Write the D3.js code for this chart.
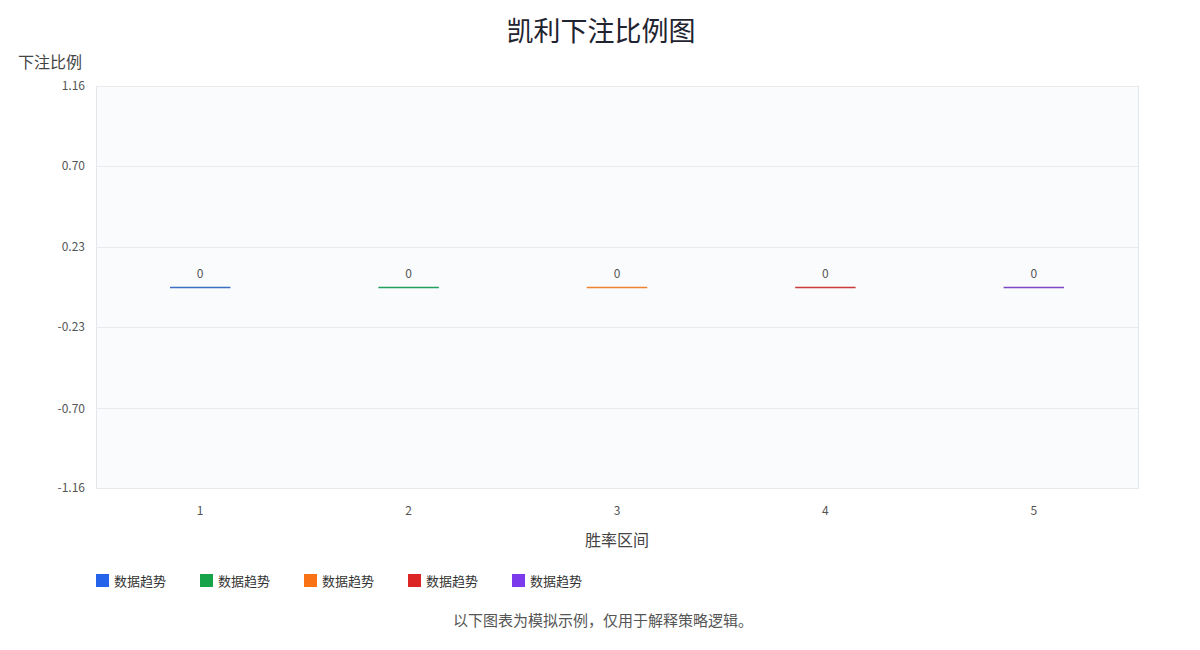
<!DOCTYPE html>
<html>
<head>
<meta charset="utf-8">
<script src="https://cdn.jsdelivr.net/npm/d3@7"></script>
<style>
  body { margin: 0; background: #fff; font-family: "Noto Sans CJK SC", "Noto Sans", sans-serif; }
</style>
</head>
<body>
<div id="chart"></div>
<script>
// chart data
const categories = ["1", "2", "3", "4", "5"];
const values = [0, 0, 0, 0, 0];
const seriesNames = ["数据趋势", "数据趋势", "数据趋势", "数据趋势", "数据趋势"];
const seriesColors = ["#2563eb", "#16a34a", "#f97316", "#dc2626", "#7c3aed"];
const lineColors = ["#3b6fc0", "#22a05c", "#f0842e", "#cc3a3a", "#7c48c8"];
const yTicks = [-1.16, -0.70, -0.23, 0.23, 0.70, 1.16];
const yTickLabels = ["-1.16", "-0.70", "-0.23", "0.23", "0.70", "1.16"];

const w = 1200;
const h = 650;
const plotLeft = 96, plotRight = 1138, plotTop = 86, plotBottom = 488;

const svg = d3.select("#chart")
  .append("svg")
  .attr("width", w)
  .attr("height", h);

const xScale = d3.scaleBand()
  .domain(categories)
  .range([plotLeft, plotRight]);

const yScale = d3.scaleLinear()
  .domain([-1.16, 1.16])
  .range([plotBottom, plotTop]);

// plot background
svg.append("rect")
  .attr("x", plotLeft + 0.5)
  .attr("y", plotTop + 0.5)
  .attr("width", plotRight - plotLeft)
  .attr("height", plotBottom - plotTop)
  .attr("fill", "#fafbfd")
  .attr("stroke", "#e3e6ea")
  .attr("stroke-width", 1);

// grid
svg.append("g")
  .selectAll("line")
  .data(yTicks)
  .enter()
  .append("line")
  .attr("x1", plotLeft)
  .attr("x2", plotRight)
  .attr("y1", d => Math.round(yScale(d)) + 0.5)
  .attr("y2", d => Math.round(yScale(d)) + 0.5)
  .attr("stroke", "#e8eaee");

const yAxis = d3.axisLeft(yScale)
  .tickValues(yTicks)
  .tickFormat((d, i) => yTickLabels[i])
  .tickSize(0)
  .tickPadding(11);

const gy = svg.append("g")
  .attr("transform", "translate(" + plotLeft + ",0)")
  .call(yAxis);
gy.select(".domain").remove();
gy.selectAll("text")
  .attr("fill", "#555")
  .style("font-size", "12px")
  .style("font-family", "'Noto Sans CJK SC', sans-serif");

const xAxis = d3.axisBottom(xScale).tickSize(0).tickPadding(18);
const gx = svg.append("g")
  .attr("transform", "translate(0," + plotBottom + ")")
  .call(xAxis);
gx.select(".domain").remove();
gx.selectAll("text")
  .attr("fill", "#555")
  .style("font-size", "12px")
  .style("font-family", "'Noto Sans CJK SC', sans-serif");

// bars: zero values, so each one shows as its outline at the baseline
const barW = xScale.bandwidth() * 0.29;
const bars = svg.append("g")
  .selectAll("g")
  .data(categories)
  .enter()
  .append("g");

bars.append("rect")
  .attr("x", d => xScale(d) + xScale.bandwidth() / 2 - barW / 2)
  .attr("y", (d, i) => Math.min(yScale(values[i]), yScale(0)))
  .attr("width", barW)
  .attr("height", (d, i) => Math.abs(yScale(values[i]) - yScale(0)))
  .attr("fill", (d, i) => seriesColors[i]);

bars.append("line")
  .attr("x1", d => xScale(d) + xScale.bandwidth() / 2 - barW / 2)
  .attr("x2", d => xScale(d) + xScale.bandwidth() / 2 + barW / 2)
  .attr("y1", (d, i) => Math.round(yScale(values[i])) + 0.5)
  .attr("y2", (d, i) => Math.round(yScale(values[i])) + 0.5)
  .style("stroke", (d, i) => lineColors[i])
  .style("stroke-width", "1.5px");

bars.append("text")
  .attr("x", d => xScale(d) + xScale.bandwidth() / 2)
  .attr("y", (d, i) => yScale(values[i]) - 9)
  .attr("text-anchor", "middle")
  .attr("fill", "#555")
  .style("font-size", "12px")
  .style("font-family", "'Noto Sans CJK SC', sans-serif")
  .text((d, i) => values[i]);

// titles
svg.append("text")
  .attr("x", 601)
  .attr("y", 41)
  .attr("text-anchor", "middle")
  .attr("fill", "#1f2430")
  .style("font-size", "27px")
  .text("凯利下注比例图");

svg.append("text")
  .attr("x", 18)
  .attr("y", 68)
  .attr("fill", "#444")
  .style("font-size", "16px")
  .text("下注比例");

svg.append("text")
  .attr("x", (plotLeft + plotRight) / 2)
  .attr("y", 546)
  .attr("text-anchor", "middle")
  .attr("fill", "#444")
  .style("font-size", "16px")
  .text("胜率区间");

// legend
const legend = svg.append("g")
  .selectAll("g")
  .data(seriesNames)
  .enter()
  .append("g")
  .attr("transform", (d, i) => "translate(" + (96 + i * 104) + ",574)");

legend.append("rect")
  .attr("width", 13)
  .attr("height", 13)
  .attr("fill", (d, i) => seriesColors[i]);

legend.append("text")
  .attr("x", 18)
  .attr("y", 12)
  .attr("fill", "#333")
  .style("font-size", "13px")
  .text(d => d);

svg.append("text")
  .attr("x", 603)
  .attr("y", 626)
  .attr("text-anchor", "middle")
  .attr("fill", "#555")
  .style("font-size", "15px")
  .text("以下图表为模拟示例，仅用于解释策略逻辑。");
</script>
</body>
</html>
